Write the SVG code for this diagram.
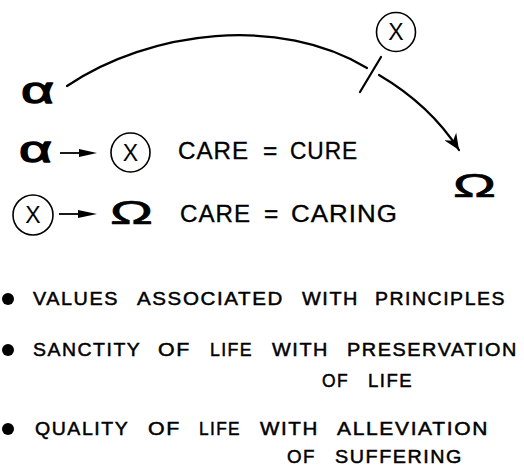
<svg xmlns="http://www.w3.org/2000/svg" width="524" height="467" viewBox="0 0 524 467">
<style>
.sym{font-family:"Liberation Sans","DejaVu Sans",sans-serif;fill:#000;stroke:#000;stroke-linejoin:round}
.al{stroke-width:1.3}
.om{stroke-width:0.7}
.cx{font-family:"Liberation Sans","DejaVu Sans",sans-serif;font-size:23px;fill:#000;text-anchor:middle}
.ring{fill:none;stroke:#000;stroke-width:1.6}
.eq{font-family:"Liberation Sans","DejaVu Sans",sans-serif;font-size:24.5px;fill:#000;stroke:#000;stroke-width:0.35;letter-spacing:1px}
.bl{font-family:"Liberation Sans","DejaVu Sans",sans-serif;font-size:19px;fill:#000;stroke:#000;stroke-width:0.5;letter-spacing:1.5px}
.ln{fill:none;stroke:#000;stroke-width:2.2;stroke-linecap:round}
.ln2{fill:none;stroke:#000;stroke-width:1.8}
</style>
<defs>
<marker id="ah" markerWidth="18" markerHeight="14" refX="16" refY="7" orient="auto" markerUnits="userSpaceOnUse">
<path d="M0,0 L16,7 L0,14 L5,7 Z" fill="#000"/>
</marker>
</defs>
<rect width="524" height="467" fill="#fff"/>

<g id="connectors">
<path class="ln" d="M67,86 C150,30 280,15 367,68"/>
<path class="ln" d="M379,75 Q430,105 459,150" marker-end="url(#ah)"/>
<line class="ln" x1="360" y1="92" x2="381" y2="57"/>
<g id="arrow-row2">
<line class="ln2" x1="60" y1="153" x2="84" y2="153"/>
<path d="M79,149 L97,153 L79,157 Z" fill="#000"/>
</g>
<g id="arrow-row3">
<line class="ln2" x1="59" y1="214" x2="83" y2="214"/>
<path d="M78,210 L97,214 L78,218 Z" fill="#000"/>
</g>
</g>

<g id="alpha-top"><text class="sym al" x="21" y="103" font-size="36" textLength="33" lengthAdjust="spacingAndGlyphs">α</text></g>
<g id="x-top"><circle class="ring" cx="396" cy="32" r="19.5"/><text class="cx" x="396" y="40">X</text></g>
<g id="omega-right"><text class="sym om" x="453" y="197" font-size="34" textLength="43" lengthAdjust="spacingAndGlyphs">Ω</text></g>

<g id="alpha-row2"><text class="sym al" x="19" y="162" font-size="36" textLength="33" lengthAdjust="spacingAndGlyphs">α</text></g>
<g id="x-row2"><circle class="ring" cx="130.5" cy="152.5" r="19.5"/><text class="cx" x="130.5" y="160.5">X</text></g>
<g id="label-row2"><text class="eq" y="159"><tspan x="178" textLength="71" lengthAdjust="spacingAndGlyphs">CARE</tspan> <tspan x="263">=</tspan> <tspan x="290" textLength="68" lengthAdjust="spacingAndGlyphs">CURE</tspan></text></g>

<g id="x-row3"><circle class="ring" cx="33" cy="215" r="20"/><text class="cx" x="33" y="223">X</text></g>
<g id="omega-row3"><text class="sym om" x="110" y="224" font-size="34" textLength="43" lengthAdjust="spacingAndGlyphs">Ω</text></g>
<g id="label-row3"><text class="eq" y="222"><tspan x="180" textLength="71" lengthAdjust="spacingAndGlyphs">CARE</tspan> <tspan x="264">=</tspan> <tspan x="291" textLength="107" lengthAdjust="spacingAndGlyphs">CARING</tspan></text></g>

<g id="bullets">
<circle cx="8" cy="299" r="6"/>
<circle cx="8" cy="350" r="6"/>
<circle cx="8" cy="429" r="6"/>
<text class="bl" y="305"><tspan x="33" textLength="86" lengthAdjust="spacingAndGlyphs">VALUES</tspan> <tspan x="137" textLength="147" lengthAdjust="spacingAndGlyphs">ASSOCIATED</tspan> <tspan x="302" textLength="57" lengthAdjust="spacingAndGlyphs">WITH</tspan> <tspan x="375" textLength="131" lengthAdjust="spacingAndGlyphs">PRINCIPLES</tspan></text>
<text class="bl" y="356"><tspan x="33" textLength="108" lengthAdjust="spacingAndGlyphs">SANCTITY</tspan> <tspan x="158" textLength="33" lengthAdjust="spacingAndGlyphs">OF</tspan> <tspan x="210" textLength="43" lengthAdjust="spacingAndGlyphs">LIFE</tspan> <tspan x="272" textLength="57" lengthAdjust="spacingAndGlyphs">WITH</tspan> <tspan x="347" textLength="171" lengthAdjust="spacingAndGlyphs">PRESERVATION</tspan></text>
<text class="bl" y="387"><tspan x="322" textLength="27" lengthAdjust="spacingAndGlyphs">OF</tspan> <tspan x="368" textLength="45" lengthAdjust="spacingAndGlyphs">LIFE</tspan></text>
<text class="bl" y="435"><tspan x="35" textLength="94" lengthAdjust="spacingAndGlyphs">QUALITY</tspan> <tspan x="148" textLength="33" lengthAdjust="spacingAndGlyphs">OF</tspan> <tspan x="199" textLength="42" lengthAdjust="spacingAndGlyphs">LIFE</tspan> <tspan x="260" textLength="59" lengthAdjust="spacingAndGlyphs">WITH</tspan> <tspan x="337" textLength="152" lengthAdjust="spacingAndGlyphs">ALLEVIATION</tspan></text>
<text class="bl" y="463"><tspan x="287" textLength="29" lengthAdjust="spacingAndGlyphs">OF</tspan> <tspan x="335" textLength="128" lengthAdjust="spacingAndGlyphs">SUFFERING</tspan></text>
</g>
</svg>
